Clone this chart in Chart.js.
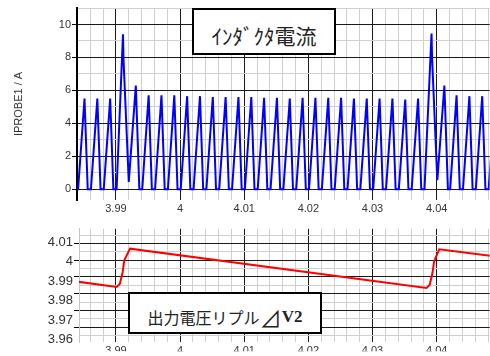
<!DOCTYPE html>
<html>
<head>
<meta charset="utf-8">
<script src="https://cdn.jsdelivr.net/npm/chart.js@4.4.0/dist/chart.umd.min.js"></script>
<style>
  body { margin: 0; background: #fff; width: 490px; height: 356px; overflow: hidden; position: relative; }
  #topWrap { position: absolute; left: 0; top: 0; width: 490px; height: 216px; }
  #botWrap { position: absolute; left: 0; top: 215px; width: 490px; height: 141px; }
  .note {
    position: absolute; box-sizing: border-box; border: 2px solid #000; background: #fff;
    display: flex; justify-content: center; align-items: center; white-space: nowrap;
    color: #222; font-family: "Noto Sans CJK JP", sans-serif;
  }
  #noteTop { left: 192px; top: 8px; width: 144px; height: 47px; font-size: 21px; padding-top: 6px; }
  #noteBot { left: 128px; top: 292px; width: 194px; height: 42px; font-size: 16px; padding-top: 8px; }
  #noteBot .tri { font-size: 22px; line-height: 16px; }
  #noteBot .v { font-family: "Liberation Serif", serif; font-size: 17px; font-weight: bold; }
</style>
</head>
<body>
<div id="topWrap"><canvas id="currentChart" width="490" height="216"></canvas></div>
<div id="botWrap"><canvas id="rippleChart" width="490" height="141"></canvas></div>
<div class="note" id="noteTop">ｲﾝﾀﾞｸﾀ電流</div>
<div class="note" id="noteBot">出力電圧リプル<span class="tri">⊿</span><span class="v">V2</span></div>
<script>
// インダクタ電流 (時間 / 電流)
const iTime = [
  3.9838, 3.9841, 3.9851, 3.9856,
  3.9861, 3.9871, 3.9876,
  3.9881, 3.9891, 3.9896,
  3.9901, 3.9911, 3.99118, 3.9920,
  3.9931, 3.99365,
  3.9941, 3.9951, 3.9956,
  3.9961, 3.9971, 3.9976,
  3.9981, 3.9991, 3.9996,
  4.0001, 4.0011, 4.0016,
  4.0021, 4.0031, 4.0036,
  4.0041, 4.0051, 4.0056,
  4.0061, 4.0071, 4.0076,
  4.0081, 4.0091, 4.0096,
  4.0101, 4.0111, 4.0116,
  4.0121, 4.0131, 4.0136,
  4.0141, 4.0151, 4.0156,
  4.0161, 4.0171, 4.0176,
  4.0181, 4.0191, 4.0196,
  4.0201, 4.0211, 4.0216,
  4.0221, 4.0231, 4.0236,
  4.0241, 4.0251, 4.0256,
  4.0261, 4.0271, 4.0276,
  4.0281, 4.0291, 4.0296,
  4.0301, 4.0311, 4.0316,
  4.0321, 4.0331, 4.0336,
  4.0341, 4.0351, 4.0356,
  4.0361, 4.0371, 4.0376,
  4.0381, 4.0392, 4.03928, 4.0401,
  4.0412, 4.04175,
  4.0421, 4.0431, 4.0436,
  4.0441, 4.0451, 4.0456,
  4.0461, 4.0471, 4.0476,
  4.0481, 4.0491
];
const iAmp = [
  0, 0, 5.5, 0,
  0, 5.5, 0,
  0, 5.5, 0,
  0, 9.4, 7.9, 0.45,
  6.3, 0,
  0, 5.7, 0,
  0, 5.7, 0,
  0, 5.7, 0,
  0, 5.65, 0,
  0, 5.65, 0,
  0, 5.6, 0,
  0, 5.6, 0,
  0, 5.6, 0,
  0, 5.6, 0,
  0, 5.55, 0,
  0, 5.55, 0,
  0, 5.5, 0,
  0, 5.55, 0,
  0, 5.55, 0,
  0, 5.55, 0,
  0, 5.55, 0,
  0, 5.5, 0,
  0, 5.5, 0,
  0, 5.5, 0,
  0, 5.5, 0,
  0, 5.45, 0,
  0, 5.5, 0,
  0, 9.45, 8.0, 0.55,
  6.3, 0,
  0, 5.7, 0,
  0, 5.65, 0,
  0, 5.65, 0,
  0, 5.6
];

// 出力電圧リプル (時間 / 電圧)
const vTime = [3.9838, 3.9901, 3.9906, 3.99105, 3.9913, 3.9922, 4.0384, 4.0389, 4.03935, 4.0396, 4.0404, 4.0490];
const vVolt = [3.9873, 3.9840, 3.9858, 3.9930, 4.0000, 4.0070, 3.9834, 3.9852, 3.9925, 3.9995, 4.0066, 4.0024];

// 軸の範囲
const timeRangeTop = [3.98393, 4.04826];
const timeRangeBot = [3.98424, 4.04826];
const ampRange = [-0.65, 11];
const voltGridRange = [3.9509, 4.0189];
const voltLabelRange = [3.9586, 4.0169];

const gridMajor = '#1a1a1a';
const gridMinor = '#cfcfcf';
const tickText = '#333';

function isMajor(v, unit) {
  return Math.abs(v / unit - Math.round(v / unit)) < 1e-6;
}
function fmt(v) {
  return String(Number(v.toFixed(2)));
}
function toPoints(xs, ys) {
  return xs.map((x, i) => ({ x: x, y: ys[i] }));
}

function timeAxis(range, height) {
  return {
    type: 'linear',
    min: range[0],
    max: range[1],
    afterFit: s => { s.height = height; },
    border: { display: false },
    grid: {
      color: c => (c.tick && isMajor(c.tick.value, 0.01)) ? gridMajor : gridMinor,
      drawTicks: false
    },
    ticks: {
      stepSize: 0.002,
      includeBounds: false,
      autoSkip: false,
      maxRotation: 0,
      padding: 2,
      color: tickText,
      font: { family: 'Liberation Sans', size: 11 },
      callback: v => isMajor(v, 0.01) ? fmt(v) : ''
    }
  };
}

// 電流チャート
new Chart(document.getElementById('currentChart'), {
  type: 'line',
  data: {
    datasets: [{
      data: toPoints(iTime, iAmp),
      borderColor: '#0000ff',
      borderWidth: 2,
      pointRadius: 0,
      tension: 0,
      fill: false
    }]
  },
  options: {
    responsive: false,
    animation: false,
    layout: { padding: { top: 8, left: 0, right: 0, bottom: 0 } },
    plugins: { legend: { display: false }, tooltip: { enabled: false } },
    scales: {
      x: timeAxis(timeRangeTop, 16),
      y: {
        min: ampRange[0],
        max: ampRange[1],
        afterFit: s => { s.width = 77; },
        border: { display: true, color: '#000', width: 2 },
        grid: {
          color: c => (c.tick && isMajor(c.tick.value, 2)) ? gridMajor : gridMinor,
          tickColor: c => (c.tick && isMajor(c.tick.value, 2)) ? '#000' : 'rgba(0,0,0,0)',
          tickLength: 5
        },
        ticks: {
          stepSize: 1,
          includeBounds: false,
          padding: 1,
          color: tickText,
          font: { family: 'Liberation Sans', size: 11 },
          callback: v => isMajor(v, 2) ? String(v) : ''
        },
        title: {
          display: true,
          text: 'IPROBE1 / A',
          color: tickText,
          font: { family: 'Liberation Sans', size: 11 },
          padding: { top: 12, bottom: 0 }
        }
      }
    }
  }
});

// 電圧リプルチャート
new Chart(document.getElementById('rippleChart'), {
  type: 'line',
  data: {
    datasets: [{
      data: toPoints(vTime, vVolt),
      borderColor: '#ff0000',
      borderWidth: 2,
      pointRadius: 0,
      tension: 0,
      fill: false
    }]
  },
  options: {
    responsive: false,
    animation: false,
    layout: { padding: { top: 12, left: 0, right: 0, bottom: 0 } },
    plugins: { legend: { display: false }, tooltip: { enabled: false } },
    scales: {
      x: timeAxis(timeRangeBot, 9),
      y: {
        position: 'left',
        weight: 0,
        min: voltGridRange[0],
        max: voltGridRange[1],
        afterFit: s => { s.width = 0; },
        border: { display: true, color: '#c4c4c4', width: 1 },
        grid: {
          color: c => (c.tick && isMajor(c.tick.value, 0.01)) ? gridMajor : gridMinor,
          tickColor: c => (c.tick && isMajor(c.tick.value, 0.01)) ? '#000' : 'rgba(0,0,0,0)',
          tickLength: 5
        },
        ticks: { display: false, stepSize: 0.005, includeBounds: false }
      },
      yLab: {
        position: 'left',
        weight: 1,
        min: voltLabelRange[0],
        max: voltLabelRange[1],
        afterFit: s => { s.width = 79; },
        border: { display: false },
        grid: { display: false, drawTicks: false },
        ticks: {
          stepSize: 0.01,
          includeBounds: false,
          padding: 6,
          color: tickText,
          font: { family: 'Liberation Sans', size: 13 },
          callback: v => fmt(v)
        }
      }
    }
  }
});
</script>
</body>
</html>
